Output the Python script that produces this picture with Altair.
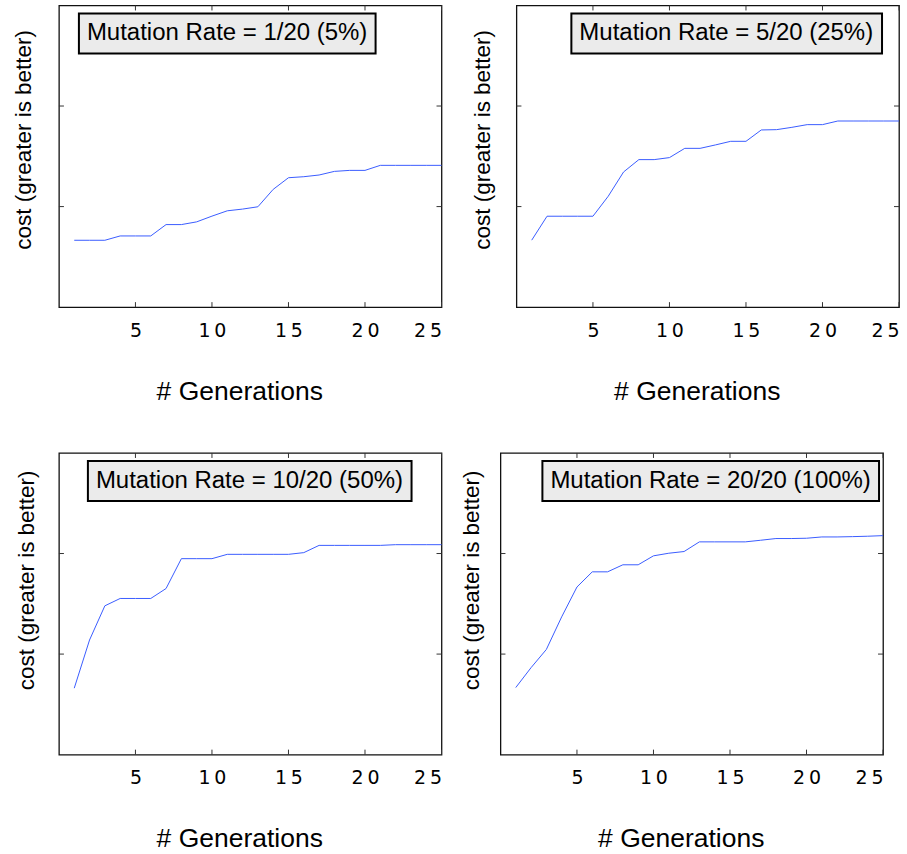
import altair as alt
import pandas as pd

gens = list(range(1, 26))
cost_5 = [0.665, 0.665, 0.665, 0.708, 0.708, 0.708, 0.821, 0.821, 0.848, 0.905,
          0.958, 0.975, 0.998, 1.171, 1.287, 1.297, 1.314, 1.350, 1.360, 1.360,
          1.410, 1.410, 1.410, 1.410, 1.410]
cost_25 = [0.666, 0.904, 0.904, 0.904, 0.904, 1.103, 1.344, 1.467, 1.467, 1.487,
           1.579, 1.579, 1.613, 1.649, 1.649, 1.762, 1.765, 1.788, 1.815, 1.815,
           1.851, 1.851, 1.851, 1.851, 1.851]
cost_50 = [0.661, 1.140, 1.480, 1.553, 1.553, 1.553, 1.652, 1.949, 1.949, 1.949,
           1.992, 1.992, 1.992, 1.992, 1.992, 2.009, 2.081, 2.081, 2.081, 2.081,
           2.081, 2.088, 2.088, 2.088, 2.088]
cost_100 = [0.667, 0.865, 1.046, 1.370, 1.667, 1.818, 1.818, 1.888, 1.888, 1.977,
            2.003, 2.020, 2.116, 2.116, 2.116, 2.116, 2.132, 2.149, 2.149, 2.152,
            2.165, 2.165, 2.168, 2.172, 2.178]
labels = ["Mutation Rate = 1/20 (5%)", "Mutation Rate = 5/20 (25%)",
          "Mutation Rate = 10/20 (50%)", "Mutation Rate = 20/20 (100%)"]
x_ticks = [5, 10, 15, 20, 25]
y_ticks = [1, 2]
x_domain = [0, 25]
y_domain = [0, 3]

W, H = 383, 302
LINE = "#3a5cff"
TICK = "#333333"
TL = 5


def panel(values, label, legend_x, ytitle_x, ytitle_y):
    df = pd.DataFrame({"gen": gens, "cost": values, "label": [label] * len(gens)})
    xs = alt.Scale(domain=x_domain, nice=False, zero=False)
    ys = alt.Scale(domain=y_domain, nice=False, zero=False)
    xaxis = alt.Axis(
        values=x_ticks, title="# Generations", ticks=False, domain=False, grid=False,
        labelFont="DejaVu Sans", labelFontSize=19, labelColor="black",
        labelBaseline="alphabetic", labelPadding=29,
        labelExpr="join(split(datum.label, ''), '\u2009')",
        titleFont="Liberation Sans", titleFontSize=26.5, titleFontWeight="normal",
        titleColor="black", titleBaseline="alphabetic", titleAlign="center",
        titleX=W / 2 - 11, titleY=92)
    yaxis = alt.Axis(
        title="cost (greater is better)", labels=False, ticks=False, domain=False,
        grid=False, titleFont="Liberation Sans", titleFontSize=22.5,
        titleFontWeight="normal", titleColor="black", titleBaseline="alphabetic",
        titleAlign="center", titleAngle=270, titleX=ytitle_x, titleY=ytitle_y)
    line = alt.Chart(df).mark_line(strokeWidth=1).encode(
        x=alt.X("gen:Q", scale=xs, axis=xaxis, title="# Generations"),
        y=alt.Y("cost:Q", scale=ys, axis=yaxis, title="cost (greater is better)"),
        color=alt.Color("label:N", scale=alt.Scale(range=[LINE]), legend=alt.Legend(
            title=None, orient="none", legendX=legend_x, legendY=8,
            fillColor="#ebebeb", strokeColor="black", padding=8,
            symbolType="circle", symbolOpacity=0, symbolSize=0,
            symbolStrokeWidth=0, labelOffset={"expr": "-24"}, columnPadding=0,
            rowPadding=0,
            labelFont="Liberation Sans", labelFontSize=24, labelColor="black",
            labelLimit=700)),
    )
    xt = pd.DataFrame({"t": x_ticks})
    yt = pd.DataFrame({"v": y_ticks})
    xt_bottom = alt.Chart(xt).mark_rule(color=TICK, strokeWidth=1).encode(
        x=alt.X("t:Q", scale=xs, axis=xaxis, title="# Generations"),
        y=alt.value(H), y2=alt.value(H - TL))
    xt_top = alt.Chart(xt).mark_rule(color=TICK, strokeWidth=1).encode(
        x=alt.X("t:Q", scale=xs, axis=xaxis, title="# Generations"),
        y=alt.value(0), y2=alt.value(TL))
    yt_left = alt.Chart(yt).mark_rule(color=TICK, strokeWidth=1).encode(
        y=alt.Y("v:Q", scale=ys, axis=yaxis, title="cost (greater is better)"),
        x=alt.value(0), x2=alt.value(TL))
    yt_right = alt.Chart(yt).mark_rule(color=TICK, strokeWidth=1).encode(
        y=alt.Y("v:Q", scale=ys, axis=yaxis, title="cost (greater is better)"),
        x=alt.value(W - TL), x2=alt.value(W))
    return alt.layer(line, xt_bottom, xt_top, yt_left, yt_right).properties(width=W, height=H)


p1 = panel(cost_5, labels[0], 20, -28.6, 134)
p2 = panel(cost_25, labels[1], 55, -26.6, 134)
p3 = panel(cost_50, labels[2], 29, -25.6, 127)
p4 = panel(cost_100, labels[3], 42, -21.6, 127)

row1 = alt.hconcat(p1, p2, spacing=26).resolve_scale(color="independent").resolve_legend(color="independent")
row2 = alt.hconcat(p3, p4, spacing=15).resolve_scale(color="independent").resolve_legend(color="independent")
chart = alt.concat(row1, row2, columns=1, spacing=45).resolve_scale(
    color="independent").resolve_legend(color="independent").properties(
    padding={"left": 11, "top": 3, "right": 5, "bottom": 5}
).configure_view(stroke="#111111", strokeWidth=1.3).configure_legend(strokeWidth=2)

chart.save("out.html", embed_options={"renderer": "svg", "actions": False})
